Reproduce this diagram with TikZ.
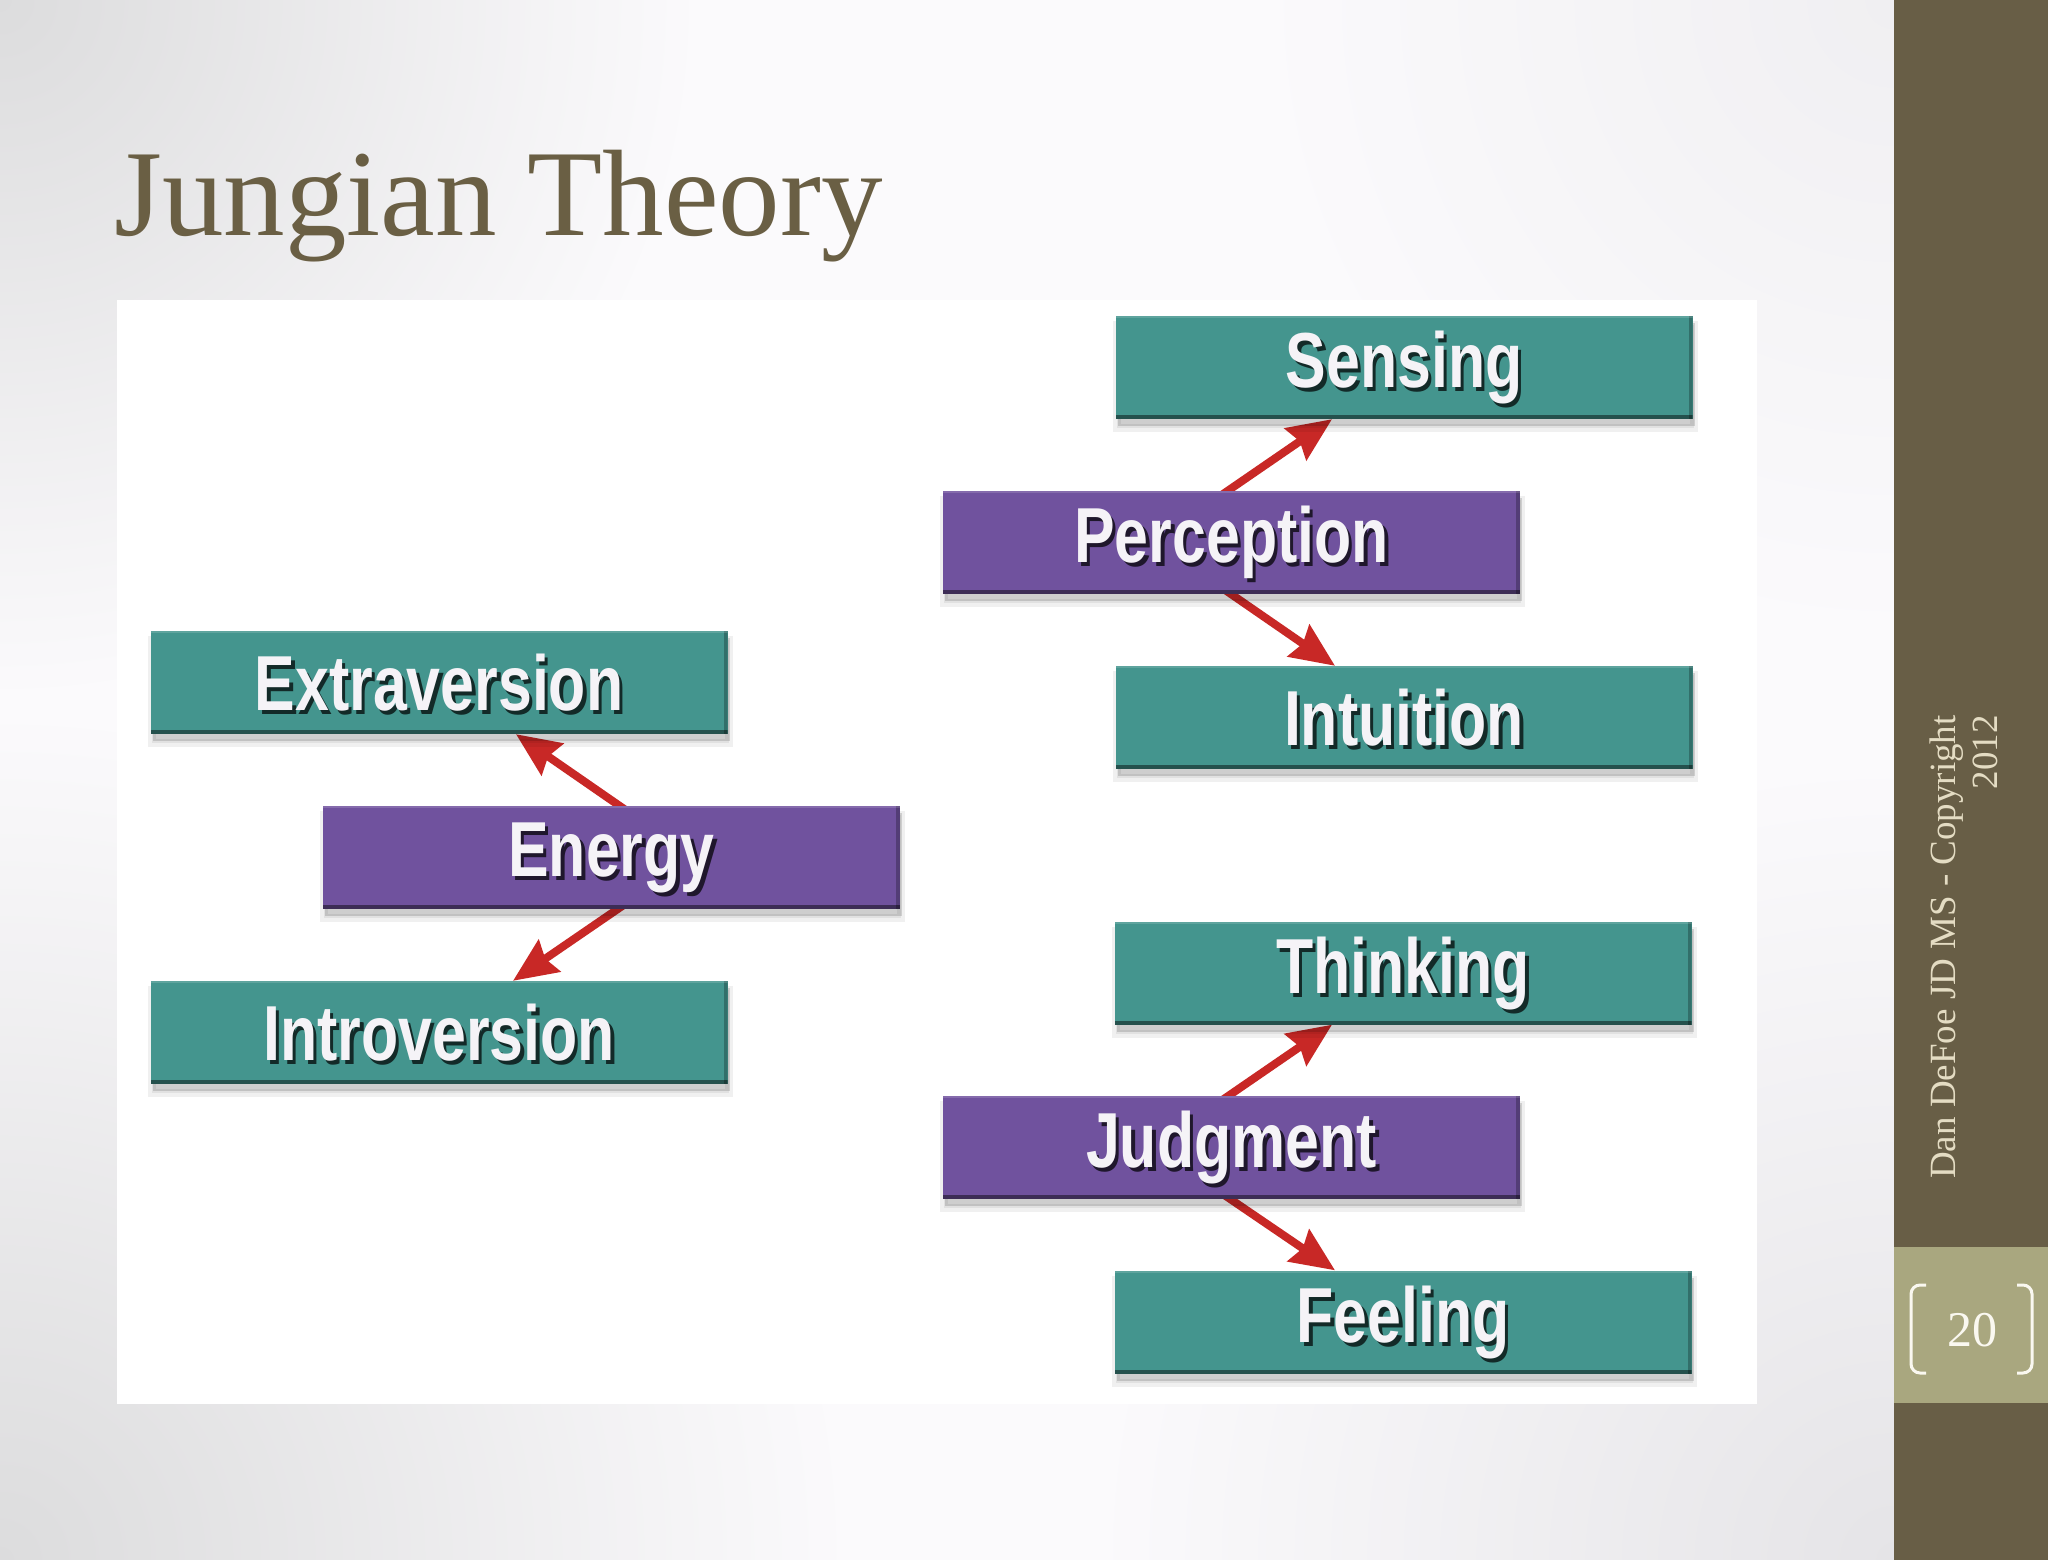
\documentclass[tikz,border=0pt]{standalone}
\usepackage{fontspec}
\setmainfont{Liberation Serif}
\newfontfamily\boxfont[FakeStretch=0.78,UprightFont=* Bold]{Liberation Sans}
\usetikzlibrary{arrows.meta,shadows,calc}
\definecolor{tealbox}{RGB}{68,149,142}
\definecolor{purpbox}{RGB}{112,82,158}
\definecolor{arrred}{RGB}{200,40,38}
\definecolor{olivebar}{RGB}{104,94,70}
\definecolor{oliveband}{RGB}{169,167,127}
\definecolor{titlecol}{RGB}{106,95,68}
\definecolor{cream}{RGB}{228,220,195}
\definecolor{numcol}{RGB}{250,248,240}
\definecolor{boxtext}{RGB}{245,243,247}
\definecolor{slidewhite}{RGB}{251,250,252}
\definecolor{vignleft}{RGB}{220,220,221}
\definecolor{vignright}{RGB}{229,228,231}
\newcommand\shtxt[2]{%
  \makebox[0pt][l]{\smash{\kern3.5pt\raisebox{-4pt}{\textcolor{black!72!#1}{#2}}}}#2}
\pgfdeclarelayer{bg}
\pgfdeclarelayer{arr}
\pgfsetlayers{bg,arr,main}
\tikzset{
  box/.style={minimum width=577pt, minimum height=103pt, inner sep=0pt,
    text=boxtext, font=\boxfont\fontsize{78}{80}\selectfont,
    drop shadow={shadow xshift=1pt, shadow yshift=-9pt, opacity=0.06, fill=black, draw=black, line width=8pt},
    drop shadow={shadow xshift=2pt, shadow yshift=-7pt, opacity=0.14, fill=black},
    path picture={
      \fill[black,opacity=0.45] (path picture bounding box.south west) rectangle ([yshift=4pt]path picture bounding box.south east);
      \fill[black,opacity=0.25] ([xshift=-4pt]path picture bounding box.north east) rectangle (path picture bounding box.south east);
      \fill[white,opacity=0.15] (path picture bounding box.north west) rectangle ([yshift=-2pt]path picture bounding box.north east);
    }},
  tbox/.style={box, fill=tealbox},
  pbox/.style={box, fill=purpbox},
  link/.style={draw=arrred, line width=8pt, -{Stealth[length=44pt,width=38pt,inset=5pt]}, shorten <=-12pt},
  bracket/.style={draw=numcol, line width=3pt, rounded corners=9pt},
}
\begin{document}
\begin{tikzpicture}[x=1pt,y=-1pt]
\useasboundingbox (0,0) rectangle (2048,1560);
\begin{pgfonlayer}{bg}
  \fill[slidewhite] (0,0) rectangle (1894,1560);
  \begin{scope}
    \clip (0,0) rectangle (1894,1560);
    \shade[inner color=vignleft, outer color=slidewhite] (0,0) circle (700);
    \shade[inner color=vignleft, outer color=slidewhite] (0,1560) circle (850);
    \shade[inner color=vignright, outer color=slidewhite] (1894,1560) circle (800);
    \shade[inner color=vignright!50!slidewhite, outer color=slidewhite] (1894,0) circle (640);
  \end{scope}
  \fill[white] (117,300) rectangle (1757,1404);
\end{pgfonlayer}
% sidebar
\fill[olivebar] (1894,0) rectangle (2048,1560);
\fill[oliveband] (1894,1247) rectangle (2048,1403);
\draw[bracket] (1926,1285) -- (1911,1285) -- (1911,1373) -- (1926,1373);
\draw[bracket] (2017,1285) -- (2032,1285) -- (2032,1373) -- (2017,1373);
\node[text=numcol, font=\fontsize{50}{52}\selectfont] (pnum) at (1972,1330) {20};
\node[rotate=90, align=right, text=cream, font=\fontsize{37}{42}\selectfont] (copy) at (1964,947) {Dan DeFoe JD MS - Copyright\\2012};
% title
\node[anchor=base west, text=titlecol, font=\fontsize{123}{128}\selectfont, inner sep=0pt] (title) at (114,235) {Jungian Theory};
% boxes
\node[tbox] (ext) at (439,682.5) {\shtxt{tealbox}{Extraversion}};
\node[pbox] (energy) at (611.5,857.5) {\shtxt{purpbox}{Energy}};
\node[tbox] (intro) at (439,1032.5) {\shtxt{tealbox}{Introversion}};
\node[tbox] (sens) at (1404,367.5) {\shtxt{tealbox}{Sensing}};
\node[pbox] (perc) at (1231.5,542) {\shtxt{purpbox}{Perception}};
\node[tbox] (intu) at (1404,717.5) {\shtxt{tealbox}{Intuition}};
\node[tbox] (think) at (1403,973) {\shtxt{tealbox}{Thinking}};
\node[pbox] (judg) at (1231.5,1147.5) {\shtxt{purpbox}{Judgment}};
\node[tbox] (feel) at (1403,1322) {\shtxt{tealbox}{Feeling}};
% arrows
\begin{pgfonlayer}{arr}
  \draw[link] ([xshift=8pt]energy.north) -- ([xshift=77pt]ext.south);
  \draw[link] ([xshift=6pt]energy.south) -- ([xshift=74pt]intro.north);
  \draw[link] ([xshift=-3pt]perc.north) -- ([xshift=-72pt]sens.south);
  \draw[link] ([xshift=-1pt]perc.south) -- ([xshift=-69pt]intu.north);
  \draw[link] ([xshift=-3pt]judg.north) -- ([xshift=-71pt]think.south);
  \draw[link] ([xshift=-1pt]judg.south) -- ([xshift=-68pt]feel.north);
\end{pgfonlayer}
\end{tikzpicture}
\end{document}
